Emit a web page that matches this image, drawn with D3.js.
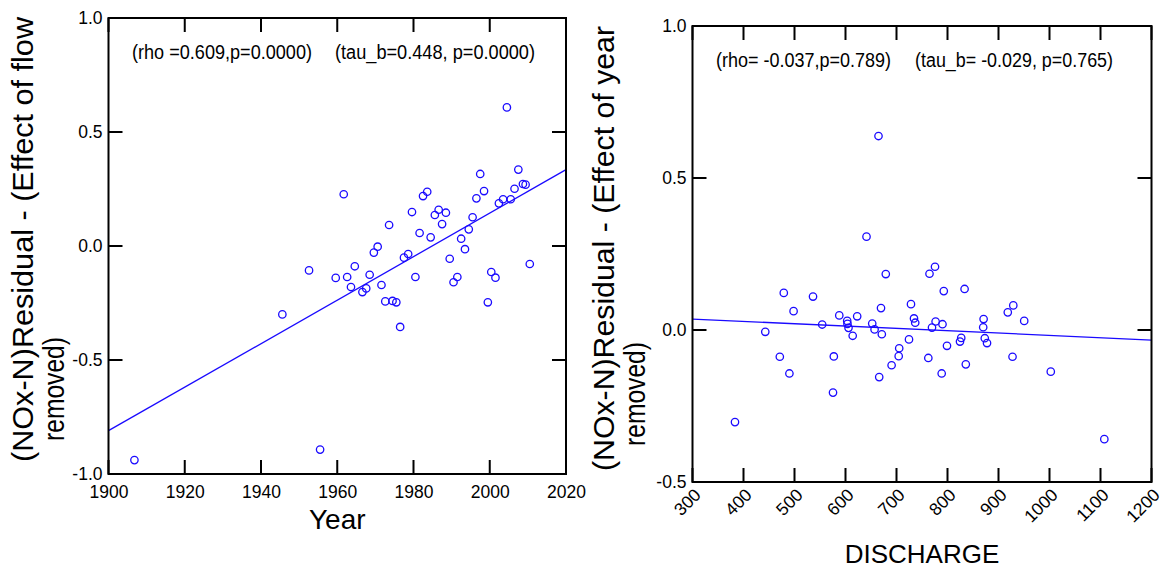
<!DOCTYPE html>
<html>
<head>
<meta charset="utf-8">
<script src="https://cdn.jsdelivr.net/npm/d3@7"></script>
<style>
    body { margin: 0; background: #fff; }
    svg text { font-family: "Liberation Sans", Arial, sans-serif; fill: #000; }
</style>
</head>
<body>
<svg width="1164" height="568"></svg>
<script>
// 左图：年份 vs 残差
const yearVals = [2004.5, 1961.7, 1982.5, 1983.6, 1996.5, 1998.5, 2006.5, 2008.7, 2009.4, 2007.5,
    1997.5, 2002.4, 2003.5, 2005.5, 1979.6, 1985.6, 1986.6, 1988.5, 1973.6, 1987.5,
    1995.5, 1981.6, 1984.5, 1994.5, 1992.5, 1970.6, 1969.6, 1993.5, 1977.5, 1978.6,
    1989.5, 1952.6, 1964.6, 1959.6, 1962.6, 1968.5, 1963.6, 1966.6, 1967.6, 1971.6,
    1980.5, 2000.4, 2001.5, 2010.5, 1991.5, 1990.5, 1972.6, 1974.5, 1975.5, 1999.5,
    1945.6, 1976.5, 1906.8, 1955.5];
const yearResid = [0.608, 0.227, 0.219, 0.238, 0.209, 0.241, 0.251, 0.272, 0.269, 0.335,
    0.316, 0.187, 0.205, 0.205, 0.149, 0.136, 0.159, 0.146, 0.092, 0.096,
    0.126, 0.057, 0.038, 0.073, 0.032, -0.003, -0.029, -0.014, -0.051, -0.035,
    -0.056, -0.107, -0.089, -0.140, -0.136, -0.126, -0.180, -0.202, -0.186, -0.171,
    -0.136, -0.114, -0.139, -0.079, -0.136, -0.159, -0.243, -0.241, -0.247, -0.247,
    -0.300, -0.355, -0.939, -0.893];
const yearFitX = [1900, 2020];
const yearFitY = [-0.81, 0.335];
const yearTicks = [1900, 1920, 1940, 1960, 1980, 2000, 2020];
const leftYTicks = [-1.0, -0.5, 0.0, 0.5, 1.0];

// 右图：流量 vs 残差
const dischargeVals = [664.7, 641.2, 679.0, 764.7, 775.5, 479.0, 536.3, 792.7, 833.5, 498.2,
    669.6, 728.4, 918.2, 929.0, 950.4, 587.8, 603.3, 603.9, 605.9, 622.9,
    554.3, 442.7, 652.4, 657.0, 671.2, 614.1, 734.3, 736.7, 776.7, 769.6,
    790.2, 870.8, 870.0, 724.5, 826.9, 824.5, 873.1, 877.5, 799.0, 705.3,
    704.3, 471.2, 577.1, 762.4, 927.5, 690.4, 835.9, 490.0, 788.6, 1002.5,
    666.1, 575.5, 383.3, 1107.5];
const dischargeResid = [0.638, 0.307, 0.184, 0.185, 0.208, 0.122, 0.110, 0.128, 0.135, 0.062,
    0.072, 0.085, 0.058, 0.081, 0.030, 0.048, 0.030, 0.020, 0.007, 0.045,
    0.018, -0.006, 0.021, 0.002, -0.014, -0.019, 0.038, 0.024, 0.028, 0.008,
    0.019, 0.036, 0.009, -0.031, -0.026, -0.038, -0.027, -0.043, -0.052, -0.060,
    -0.086, -0.088, -0.087, -0.092, -0.088, -0.116, -0.113, -0.143, -0.143, -0.137,
    -0.155, -0.206, -0.303, -0.359];
const dischFitX = [300, 1200];
const dischFitY = [0.036, -0.033];
const dischTicks = [300, 400, 500, 600, 700, 800, 900, 1000, 1100, 1200];
const rightYTicks = [-0.5, 0.0, 0.5, 1.0];

const svg = d3.select("svg");
const blue = "#1a0aff";
const TICK = 14;
const TW = 2;

function drawPanel(p) {
    const x = d3.scaleLinear().domain(p.xDomain).range([p.left, p.right]);
    const y = d3.scaleLinear().domain(p.yDomain).range([p.bottom, p.top]);
    const g = svg.append("g");

    // 刻度标签
    const bottomAxis = g.append("g").attr("transform", `translate(0,${p.bottom})`)
        .call(d3.axisBottom(x).tickValues(p.xTicks).tickSize(0)
            .tickPadding(p.rotateX ? 4 : 12).tickFormat(d3.format("d")));
    g.append("g").attr("transform", `translate(${p.left},0)`)
        .call(d3.axisLeft(y).tickValues(p.yTicks).tickSize(0)
            .tickPadding(6).tickFormat(v => v.toFixed(1)));

    g.selectAll(".domain").remove();
    g.selectAll(".tick text").attr("font-family", "Liberation Sans, Arial, sans-serif")
        .attr("font-size", 17.5).attr("fill", "#000");

    if (p.rotateX) {
        bottomAxis.selectAll(".tick text")
            .attr("text-anchor", "end")
            .attr("dy", null)
            .attr("y", null)
            .attr("transform", "translate(9,14) rotate(-45)");
    }

    // 回归线
    const line = d3.line().x(d => x(d[0])).y(d => y(d[1]));
    g.append("path")
        .datum(d3.zip(p.fitX, p.fitY))
        .attr("d", line)
        .attr("fill", "none").attr("stroke", blue).attr("stroke-width", 1.3);

    // 散点
    g.selectAll("circle.pt")
        .data(d3.zip(p.xs, p.ys))
        .join("circle")
        .attr("class", "pt")
        .attr("cx", d => x(d[0]))
        .attr("cy", d => y(d[1]))
        .attr("r", 3.7)
        .attr("fill", "none")
        .attr("stroke", blue)
        .attr("stroke-width", 1.3);

    // 统计注释
    p.notes.forEach(n => {
        g.append("text")
            .attr("x", n.x).attr("y", p.noteY)
            .attr("font-size", 20)
            .attr("textLength", n.w).attr("lengthAdjust", "spacingAndGlyphs")
            .text(n.t);
    });

    // x 轴标题
    g.append("text")
        .attr("x", (p.left + p.right) / 2).attr("y", p.xTitleY)
        .attr("text-anchor", "middle").attr("font-size", p.xTitleSize)
        .text(p.xTitle);

    // y 轴标题（两行）
    g.append("text")
        .attr("transform", `translate(${p.yTitleX},${p.yTitleStart}) rotate(-90)`)
        .attr("font-size", 29)
        .attr("textLength", p.yTitleLen1).attr("lengthAdjust", "spacingAndGlyphs")
        .text(p.yTitle1);
    g.append("text")
        .attr("transform", `translate(${p.yTitleX + 31},${p.yTitleStart2}) rotate(-90)`)
        .attr("font-size", 29)
        .attr("textLength", p.yTitleLen2).attr("lengthAdjust", "spacingAndGlyphs")
        .text(p.yTitle2);

    return { x, y };
}

// 边框
function drawFrame(p) {
    svg.append("rect")
        .attr("x", p.left).attr("y", p.top)
        .attr("width", p.right - p.left).attr("height", p.bottom - p.top)
        .attr("fill", "none").attr("stroke", "#000").attr("stroke-width", 2);
}

const leftPanel = {
    xDomain: [1900, 2020], yDomain: [-1, 1],
    left: 108.5, right: 566, top: 18, bottom: 474,
    xTicks: yearTicks, yTicks: leftYTicks,
    xs: yearVals, ys: yearResid, fitX: yearFitX, fitY: yearFitY,
    noteY: 59,
    notes: [{ x: 132, w: 180, t: "(rho =0.609,p=0.0000)" },
            { x: 335, w: 200, t: "(tau_b=0.448, p=0.0000)" }],
    xTitle: "Year", xTitleY: 529, xTitleSize: 28,
    yTitle1: "(NOx-N)Residual - (Effect of flow", yTitle2: "removed)",
    yTitleX: 33, yTitleStart: 462, yTitleStart2: 441,
    yTitleLen1: 445, yTitleLen2: 104
};

const rightPanel = {
    xDomain: [300, 1200], yDomain: [-0.5, 1],
    left: 692.5, right: 1151.5, top: 26, bottom: 482,
    xTicks: dischTicks, yTicks: rightYTicks, rotateX: true,
    xs: dischargeVals, ys: dischargeResid, fitX: dischFitX, fitY: dischFitY,
    noteY: 67,
    notes: [{ x: 716, w: 175, t: "(rho= -0.037,p=0.789)" },
            { x: 915, w: 198, t: "(tau_b= -0.029, p=0.765)" }],
    xTitle: "DISCHARGE", xTitleY: 563, xTitleSize: 26,
    yTitle1: "(NOx-N)Residual - (Effect of year", yTitle2: "removed)",
    yTitleX: 614, yTitleStart: 471, yTitleStart2: 446,
    yTitleLen1: 445, yTitleLen2: 104
};

const s1 = drawPanel(leftPanel);
const s2 = drawPanel(rightPanel);
drawFrame(leftPanel);
drawFrame(rightPanel);

// 内向刻度：把两个面板的刻度整理成一张表，一次性用实心矩形画在 svg 顶层
const tickRects = [];
[[leftPanel, s1], [rightPanel, s2]].forEach(([p, s]) => {
    p.xTicks.forEach(d => {
        tickRects.push({ x: s.x(d) - TW / 2, y: p.bottom - TICK, w: TW, h: TICK });
        tickRects.push({ x: s.x(d) - TW / 2, y: p.top, w: TW, h: TICK });
    });
    p.yTicks.forEach(d => {
        tickRects.push({ x: p.left, y: s.y(d) - TW / 2, w: TICK, h: TW });
        tickRects.push({ x: p.right - TICK, y: s.y(d) - TW / 2, w: TICK, h: TW });
    });
});
svg.selectAll("rect.tk").data(tickRects).join("rect").attr("class", "tk")
    .attr("x", d => d.x).attr("y", d => d.y)
    .attr("width", d => d.w).attr("height", d => d.h)
    .attr("fill", "#000");
</script>
</body>
</html>
